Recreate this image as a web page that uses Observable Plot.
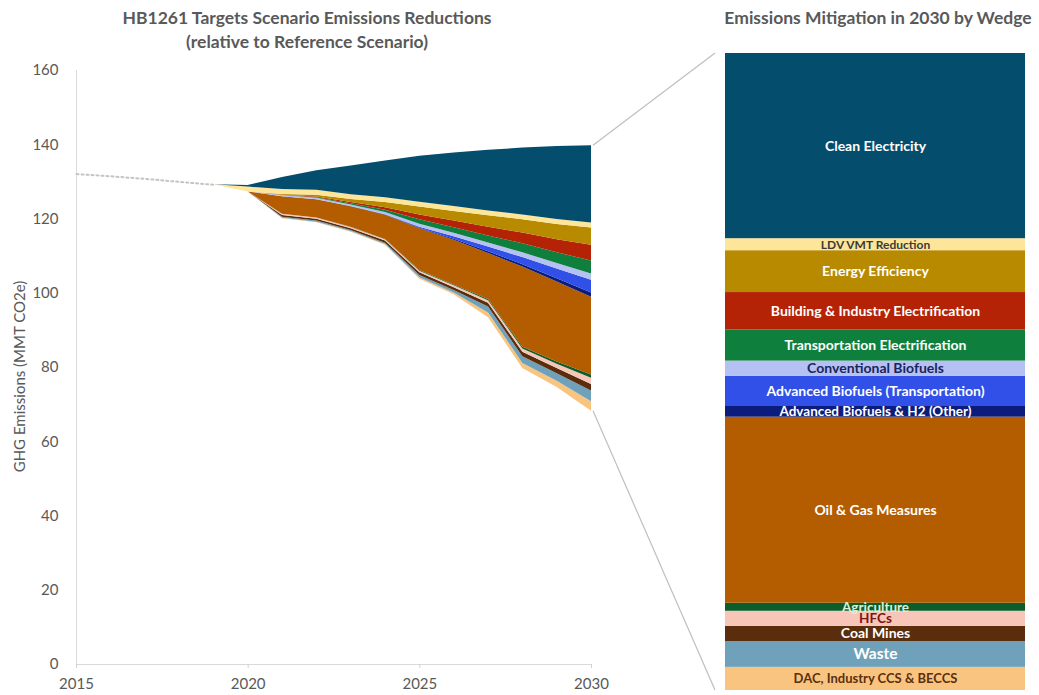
<!DOCTYPE html>
<html><head><meta charset="utf-8">
<script src="https://cdn.jsdelivr.net/npm/d3@7"></script>
<script src="https://cdn.jsdelivr.net/npm/@observablehq/plot@0.6"></script>
<style>
body{margin:0;background:#fff;font-family:Lato,"Open Sans",sans-serif;}
#wrap{position:relative;width:1039px;height:695px;overflow:hidden;background:#fff;}
.title{position:absolute;color:#595959;font-weight:700;font-size:17.5px;text-align:center;line-height:24px;white-space:nowrap;}
#left,#right{position:absolute;}
#left{left:0;top:0;}
#right{left:725px;top:53px;}
#links{position:absolute;left:0;top:0;pointer-events:none;}
</style></head><body>
<div id="wrap">
 <div id="left"></div>
 <div id="right"></div>
 <svg id="links" width="1039" height="695"></svg>
 <div class="title" style="left:107px;top:6px;width:400px">HB1261 Targets Scenario Emissions Reductions<br>(relative to Reference Scenario)</div>
 <div class="title" style="left:698px;top:6px;width:360px">Emissions Mitigation in 2030 by Wedge</div>
</div>
<script>
// ---- data (MMT CO2e) ----
const histYears = [2015, 2016, 2017, 2018, 2019];
const histEmissions = [132.1, 131.5, 130.8, 130.0, 129.2];

const years = [2019, 2020, 2021, 2022, 2023, 2024, 2025, 2026, 2027, 2028, 2029, 2030];
const scenarioEmissions = [129.2, 127.3, 120.1, 119.0, 116.4, 112.9, 103.8, 99.6, 93.4, 79.7, 74.6, 68.2];

const dacCcsBeccs   = [0, 0, 0.1, 0.15, 0.2, 0.25, 0.4, 0.45, 1.3, 1.4, 1.7, 2.6];
const waste         = [0, 0, 0.25, 0.3, 0.3, 0.35, 0.6, 0.7, 1.6, 1.8, 2.0, 2.9];
const coalMines     = [0, 0, 0.5, 0.5, 0.5, 0.55, 0.7, 0.75, 1.0, 1.2, 1.4, 1.7];
const hfcs          = [0, 0, 0.3, 0.3, 0.3, 0.35, 0.45, 0.5, 0.7, 0.9, 1.2, 1.7];
const agriculture   = [0, 0, 0.05, 0.05, 0.1, 0.1, 0.15, 0.2, 0.3, 0.45, 0.6, 0.9];
const oilGas        = [0, 0, 4.7, 4.9, 5.5, 6.5, 11.3, 12.1, 12.4, 21.6, 21.5, 20.9];
const advBioH2Other = [0, 0, 0, 0, 0, 0.05, 0.1, 0.25, 0.45, 0.65, 0.9, 1.2];
const advBioTransp  = [0, 0, 0, 0, 0.05, 0.1, 0.3, 0.7, 1.3, 1.9, 2.6, 3.4];
const convBiofuels  = [0, 0, 0.3, 0.4, 0.45, 0.6, 0.8, 0.9, 1.1, 1.3, 1.5, 1.7];
const transpElec    = [0, 0, 0.05, 0.15, 0.3, 0.6, 1.2, 1.5, 1.9, 2.4, 2.9, 3.5];
const buildIndElec  = [0, 0, 0.05, 0.15, 0.35, 0.7, 1.3, 1.8, 2.3, 2.9, 3.5, 4.2];
const energyEff     = [0, 0, 0.2, 0.5, 0.8, 1.4, 2.1, 2.6, 3.1, 3.6, 4.1, 4.7];
const ldvVmt        = [0, 1.3, 1.35, 1.35, 1.3, 1.3, 1.3, 1.3, 1.3, 1.3, 1.35, 1.35];
const cleanElec     = [0, 0.4, 3.25, 5.25, 7.75, 9.85, 12.4, 14.45, 16.35, 18.0, 19.65, 20.8];

// stacking order, bottom to top
const wedgeNames = ["DAC, Industry CCS & BECCS", "Waste", "Coal Mines", "HFCs", "Agriculture",
  "Oil & Gas Measures", "Advanced Biofuels & H2 (Other)", "Advanced Biofuels (Transportation)",
  "Conventional Biofuels", "Transportation Electrification", "Building & Industry Electrification",
  "Energy Efficiency", "LDV VMT Reduction", "Clean Electricity"];
const wedgeValues = [dacCcsBeccs, waste, coalMines, hfcs, agriculture, oilGas, advBioH2Other,
  advBioTransp, convBiofuels, transpElec, buildIndElec, energyEff, ldvVmt, cleanElec];
const wedgeColors = ["#f9c47f", "#6fa2ba", "#5a2e0c", "#f8c6b8", "#0b5e2b", "#b35d00", "#0b1c7c",
  "#3050e8", "#b5c1f2", "#0e7f3c", "#b42306", "#b88a00", "#fde59a", "#054d6d"];
const labelColors = ["#5a3010", "#ffffff", "#ffffff", "#7a1515", "#d8f0d8", "#ffffff", "#ffffff",
  "#ffffff", "#1b2460", "#ffffff", "#ffffff", "#ffffff", "#3a3a3a", "#ffffff"];
const labelSizes = [13, 15.5, 14, 13.5, 13.5, 14, 13.5, 14, 14, 14, 14, 14, 12, 14];

// ---- build tables ----
const baseName = "HB1261 Scenario Emissions";
const stackOrder = [baseName, ...wedgeNames];
const areaRows = [];
years.forEach((yr, i) => areaRows.push({year: yr, series: baseName, value: scenarioEmissions[i], color: "none"}));
wedgeNames.forEach((name, k) => years.forEach((yr, i) =>
  areaRows.push({year: yr, series: name, value: wedgeValues[k][i], color: wedgeColors[k]})));
const histRows = histYears.map((yr, i) => ({year: yr, value: histEmissions[i]}));

const last = years.length - 1;
const barRows = wedgeNames.map((name, k) => ({series: name, value: wedgeValues[k][last],
  color: wedgeColors[k], label: labelColors[k], size: labelSizes[k]}));
const barTotal = d3.sum(barRows, d => d.value);

// ---- left chart ----
const left = Plot.plot({
  width: 630, height: 695,
  marginTop: 70, marginBottom: 31, marginLeft: 76, marginRight: 39,
  style: {fontFamily: "Lato, sans-serif", color: "#595959", background: "transparent"},
  x: {domain: [2015, 2030]},
  y: {domain: [0, 160]},
  color: {type: "identity"},
  marks: [
    Plot.ruleX([2015], {stroke: "#d9d9d9"}),
    Plot.ruleY([0], {stroke: "#d9d9d9"}),
    Plot.areaY(areaRows, Plot.stackY({x: "year", y: "value", z: "series", fill: "color", order: stackOrder})),
    Plot.lineY(histRows, {x: "year", y: "value", stroke: "#c4c4c4", strokeWidth: 2, strokeDasharray: "2,3"}),
    Plot.axisX({ticks: [2015, 2020, 2025, 2030], tickFormat: d => String(d), tickSize: 4, tickPadding: 10,
      stroke: "#d0d0d0", fill: "#595959", fontSize: 15, label: null}),
    Plot.axisY({ticks: d3.range(0, 161, 20), tickSize: 0, tickPadding: 18, fill: "#595959", fontSize: 15, label: null}),
    Plot.text(["GHG Emissions (MMT CO2e)"], {frameAnchor: "left", textAnchor: "middle", rotate: -90,
      dx: -56, dy: 9, fill: "#595959", fontSize: 15})
  ]
});
document.getElementById("left").appendChild(left);

// ---- right stacked bar ----
const right = Plot.plot({
  width: 300, height: 637, margin: 0,
  style: {fontFamily: "Lato, sans-serif", background: "transparent"},
  x: {type: "band", domain: ["2030"], padding: 0, axis: null},
  y: {domain: [0, barTotal], axis: null},
  color: {type: "identity"},
  marks: [
    Plot.barY(barRows, Plot.stackY({x: () => "2030", y: "value", fill: "color", order: wedgeNames})),
    Plot.text(barRows, Plot.stackY({x: () => "2030", y: "value", text: "series", fill: "label",
      fontSize: "size", fontWeight: "bold", order: wedgeNames}))
  ]
});
document.getElementById("right").appendChild(right);

// ---- connector lines (positions derived from scales) ----
const lx = left.scale("x"), ly = left.scale("y");
const ry = right.scale("y");
const topVal = scenarioEmissions[last] + barTotal;
const botVal = scenarioEmissions[last];
const barLeft = 725, barTop = 53;
const links = d3.select("#links");
[[topVal, barTotal], [botVal, 0]].forEach(([lv, rv]) => {
  links.append("line")
    .attr("x1", lx.apply(2030) + 2).attr("y1", ly.apply(lv))
    .attr("x2", barLeft - 10).attr("y2", barTop + ry.apply(rv))
    .attr("stroke", "#bfbfbf").attr("stroke-width", 1.2);
});
</script>
</body></html>
